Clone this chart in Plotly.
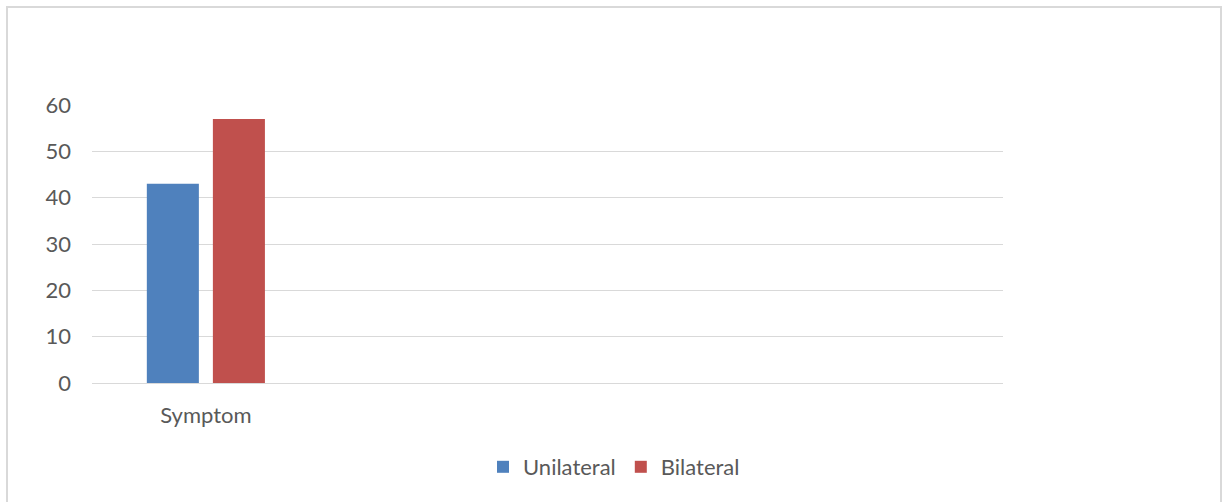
import plotly.graph_objects as go

# Data
categories = ["Symptom"]
unilateral = [43]
bilateral = [57]
y_ticks = [0, 10, 20, 30, 40, 50, 60]

W, H = 1229, 502
ML, MR, MT, MB = 92, 226, 105, 119
plot_w = W - ML - MR
plot_h = H - MT - MB

text_color = "#595959"
grid_color = "#d9d9d9"
font_family = "Lato, Carlito, Calibri, sans-serif"
font_size = 22

fig = go.Figure()
fig.add_trace(go.Bar(name="Unilateral", x=categories, y=unilateral,
                     marker=dict(color="#4f81bd", line=dict(width=0))))
fig.add_trace(go.Bar(name="Bilateral", x=categories, y=bilateral,
                     marker=dict(color="#c0504d", line=dict(width=0))))

# outer chart border
def px_to_paper_x(px):
    return (px - ML) / plot_w

def px_to_paper_y(py):
    return (H - MB - py) / plot_h

fig.add_shape(type="rect", xref="paper", yref="paper",
              x0=px_to_paper_x(7), x1=px_to_paper_x(1221),
              y0=px_to_paper_y(506), y1=px_to_paper_y(7),
              line=dict(color=grid_color, width=2), fillcolor="rgba(0,0,0,0)",
              layer="below")

fig.update_layout(
    width=W, height=H,
    margin=dict(l=ML, r=MR, t=MT, b=MB, pad=0),
    paper_bgcolor="white", plot_bgcolor="white",
    barmode="group", bargap=0.42, bargroupgap=0.212,
    font=dict(family=font_family, size=font_size, color=text_color),
    showlegend=True,
    legend=dict(orientation="h", x=px_to_paper_x(614), xanchor="center",
                y=px_to_paper_y(467), yanchor="middle",
                font=dict(size=font_size, color=text_color), itemwidth=30,
                traceorder="normal"),
    xaxis=dict(type="category", range=[-0.5, 3.5], showgrid=False,
               showline=False, zeroline=False, ticks="",
               ticklabelstandoff=17, tickfont=dict(size=font_size, color=text_color)),
    yaxis=dict(range=[0, 60], tickvals=y_ticks, showgrid=True,
               gridcolor=grid_color, gridwidth=1, zeroline=True,
               zerolinecolor=grid_color, zerolinewidth=1, showline=False,
               ticks="", ticklabelstandoff=20,
               tickfont=dict(size=font_size, color=text_color)),
)

fig.write_html("out.html")
